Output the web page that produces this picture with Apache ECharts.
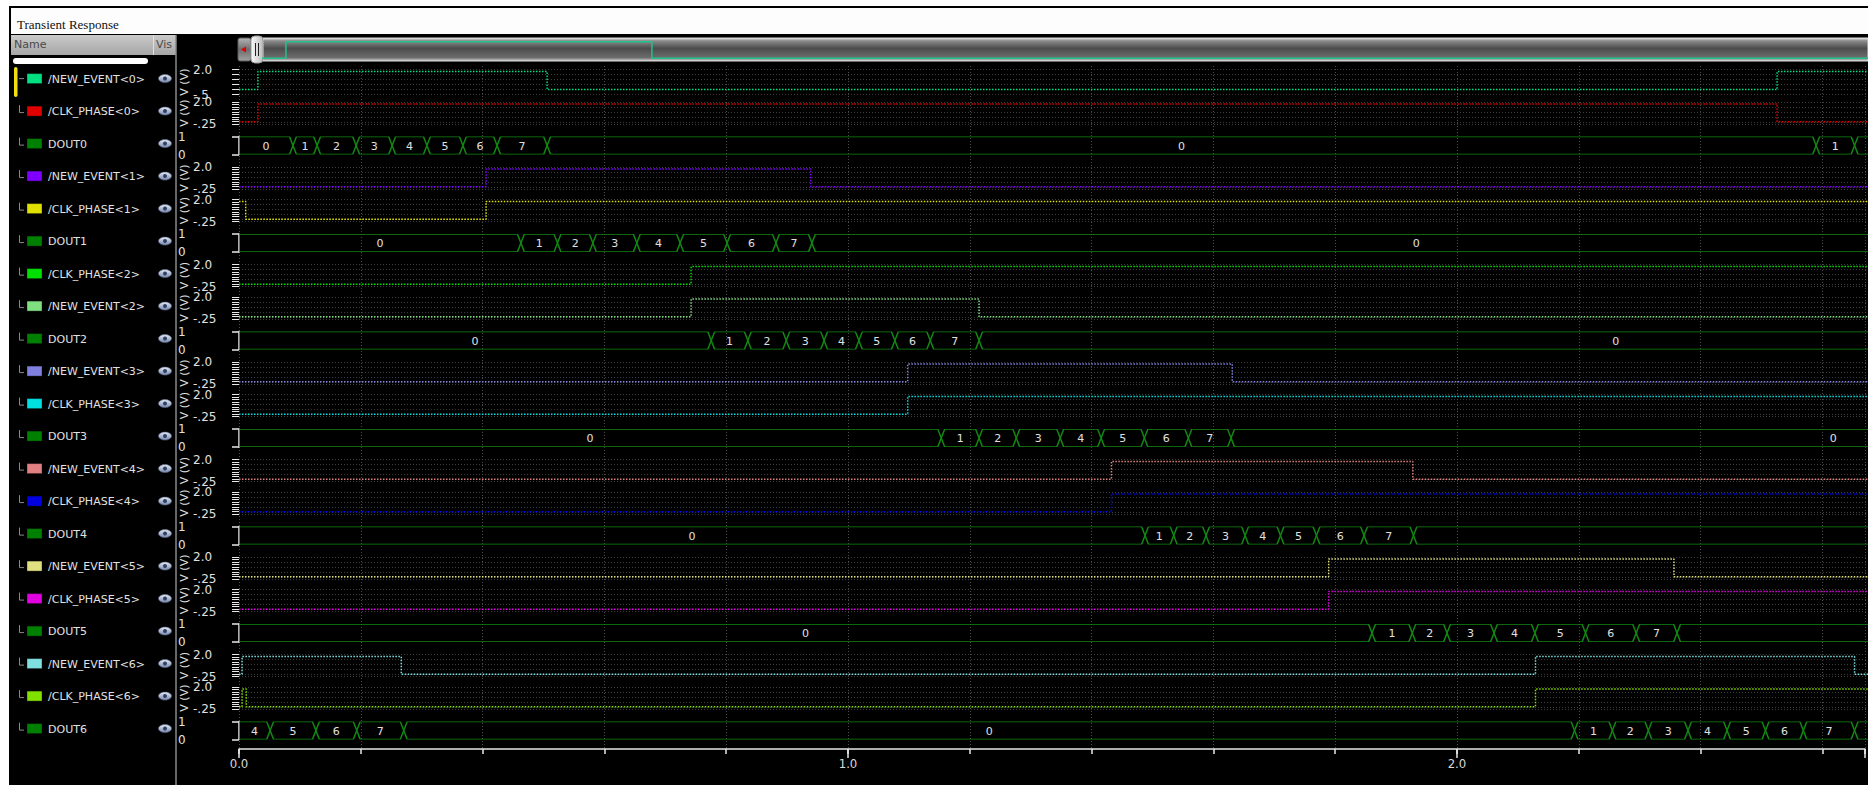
<!DOCTYPE html>
<html>
<head>
<meta charset="utf-8">
<script src="https://cdn.jsdelivr.net/npm/echarts@6/dist/echarts.min.js"></script>
<style>
  html, body { margin: 0; padding: 0; background: #fff; }
  #canvas { width: 1868px; height: 785px; }
</style>
</head>
<body>
<div id="canvas"></div>
<script>
// time axis
var TIME_LABELS = ['0.0', '1.0', '2.0'];
var XMAX = 2.67;

// analog signals: [time, volts]
var NEW_EVENT_0 = [[0, 0], [0.031, 1.8], [0.505, 0], [2.521, 1.8]];
var CLK_PHASE_0 = [[0, 0], [0.031, 1.8], [2.521, 0]];
var NEW_EVENT_1 = [[0, 0], [0.405, 1.8], [0.937, 0]];
var CLK_PHASE_1 = [[0, 1.8], [0.011, 0], [0.405, 1.8]];
var CLK_PHASE_2 = [[0, 0], [0.741, 1.8]];
var NEW_EVENT_2 = [[0, 0], [0.741, 1.8], [1.213, 0]];
var NEW_EVENT_3 = [[0, 0], [1.096, 1.8], [1.628, 0]];
var CLK_PHASE_3 = [[0, 0], [1.096, 1.8]];
var NEW_EVENT_4 = [[0, 0], [1.430, 1.8], [1.924, 0]];
var CLK_PHASE_4 = [[0, 0], [1.430, 1.8]];
var NEW_EVENT_5 = [[0, 0], [1.786, 1.8], [2.352, 0]];
var CLK_PHASE_5 = [[0, 0], [1.786, 1.8]];
var NEW_EVENT_6 = [[0, 0], [0.005, 1.8], [0.266, 0], [2.125, 1.8], [2.648, 0]];
var CLK_PHASE_6 = [[0, 0], [0.005, 1.8], [0.012, 0], [2.125, 1.8]];

// bus signals: [segment start, value], last entry = end of last segment
var DOUT0 = [[0, 0], [0.0885, 1], [0.128, 2], [0.192, 3], [0.251, 4], [0.308, 5], [0.367, 6], [0.423, 7], [0.505, 0], [2.585, 1], [2.648, 2], [2.71, null]];
var DOUT1 = [[0, 0], [0.462, 1], [0.522, 2], [0.580, 3], [0.652, 4], [0.723, 5], [0.800, 6], [0.880, 7], [0.939, 0], [2.92, null]];
var DOUT2 = [[0, 0], [0.774, 1], [0.834, 2], [0.897, 3], [0.959, 4], [1.016, 5], [1.075, 6], [1.133, 7], [1.213, 0], [3.30, null]];
var DOUT3 = [[0, 0], [1.151, 1], [1.213, 2], [1.274, 3], [1.346, 4], [1.413, 5], [1.484, 6], [1.556, 7], [1.626, 0], [3.60, null]];
var DOUT4 = [[0, 0], [1.485, 1], [1.532, 2], [1.585, 3], [1.649, 4], [1.707, 5], [1.766, 6], [1.844, 7], [1.925, 0], [3.98, null]];
var DOUT5 = [[0, 0], [1.857, 1], [1.923, 2], [1.980, 3], [2.057, 4], [2.124, 5], [2.207, 6], [2.290, 7], [2.357, 0], [4.3, null]];
var DOUT6 = [[0, 4], [0.051, 5], [0.126, 6], [0.193, 7], [0.270, 0], [2.189, 1], [2.251, 2], [2.310, 3], [2.375, 4], [2.439, 5], [2.502, 6], [2.564, 7], [2.648, 0], [4.7, null]];

var NAMES = ['/NEW_EVENT<0>', '/CLK_PHASE<0>', 'DOUT0', '/NEW_EVENT<1>', '/CLK_PHASE<1>', 'DOUT1',
  '/CLK_PHASE<2>', '/NEW_EVENT<2>', 'DOUT2', '/NEW_EVENT<3>', '/CLK_PHASE<3>', 'DOUT3',
  '/NEW_EVENT<4>', '/CLK_PHASE<4>', 'DOUT4', '/NEW_EVENT<5>', '/CLK_PHASE<5>', 'DOUT5',
  '/NEW_EVENT<6>', '/CLK_PHASE<6>', 'DOUT6'];
var WAVES = [NEW_EVENT_0, CLK_PHASE_0, DOUT0, NEW_EVENT_1, CLK_PHASE_1, DOUT1,
  CLK_PHASE_2, NEW_EVENT_2, DOUT2, NEW_EVENT_3, CLK_PHASE_3, DOUT3,
  NEW_EVENT_4, CLK_PHASE_4, DOUT4, NEW_EVENT_5, CLK_PHASE_5, DOUT5,
  NEW_EVENT_6, CLK_PHASE_6, DOUT6];
var COLORS = ['#00e080', '#e00000', '#008000', '#8000ff', '#e0e000', '#008000',
  '#00e000', '#80e080', '#008000', '#8080e0', '#00e0e0', '#008000',
  '#e08080', '#0000e0', '#008000', '#e0e080', '#e000e0', '#008000',
  '#80e0e0', '#80e000', '#008000'];
var ANALOG_TICKS = ['2.0', '-.25'];
var FIRST_TICKS = ['2.0', '-.5'];
var BUS_TICKS = ['0', '1'];

var FONT = "'DejaVu Sans', sans-serif";
var BUS_COLOR = '#118811';
var X0 = 239, ROW0 = 78.6, ROW_STEP = 32.5;

function renderBus(params, api) {
  var t0 = api.value(0), t1 = api.value(1), v = api.value(2);
  var a = api.coord([t0, 1]), b = api.coord([t1, 0]);
  var x0 = a[0], x1 = b[0], yt = a[1], yb = b[1], ym = (yt + yb) / 2;
  var d = Math.min(3.5, (x1 - x0) / 2);
  var pts = t0 <= 0
    ? [[x0, yt], [x1 - d, yt], [x1, ym], [x1 - d, yb], [x0, yb]]
    : [[x0, ym], [x0 + d, yt], [x1 - d, yt], [x1, ym], [x1 - d, yb], [x0 + d, yb]];
  var children = [
    { type: 'polygon', shape: { points: pts }, style: { fill: 'none', stroke: BUS_COLOR, lineWidth: 1.5 } }
  ];
  var cx = (x0 + x1) / 2;
  var right = params.coordSys.x + params.coordSys.width;
  if (cx < right - 6) {
    children.push({ type: 'text', style: { text: String(v), x: cx, y: ym + 0.5, align: 'center', verticalAlign: 'middle',
      fill: '#e0e0e0', fontSize: 11, fontFamily: FONT } });
  }
  return { type: 'group', children: children };
}

var grids = [], xAxes = [], yAxes = [], series = [];
var graphics = [
  // frame and title
  { type: 'rect', shape: { x: 0, y: 0, width: 1868, height: 6 }, style: { fill: '#fff' } },
  { type: 'rect', shape: { x: 0, y: 0, width: 9, height: 785 }, style: { fill: '#fff' } },
  { type: 'rect', shape: { x: 11, y: 8, width: 1857, height: 26 }, style: { fill: '#fdfdfd' } },
  { type: 'text', x: 17, y: 24, style: { text: 'Transient Response', fill: '#111', fontSize: 13,
    fontFamily: "'Liberation Serif', 'DejaVu Serif', serif", verticalAlign: 'middle' } },
  // name / vis header
  { type: 'rect', shape: { x: 11, y: 35, width: 165, height: 20 },
    style: { fill: { type: 'linear', x: 0, y: 0, x2: 0, y2: 1, colorStops: [{ offset: 0, color: '#cacaca' }, { offset: 1, color: '#a6a6a6' }] } } },
  { type: 'line', shape: { x1: 153.5, y1: 35, x2: 153.5, y2: 55 }, style: { stroke: '#e2e2e2', lineWidth: 1 } },
  { type: 'text', x: 14, y: 44, style: { text: 'Name', fill: '#4a4a4a', fontSize: 11, fontFamily: FONT, verticalAlign: 'middle' } },
  { type: 'text', x: 156, y: 44, style: { text: 'Vis', fill: '#4a4a4a', fontSize: 11, fontFamily: FONT, verticalAlign: 'middle' } },
  { type: 'rect', shape: { x: 13, y: 58, width: 135, height: 6, r: 3 }, style: { fill: '#fff' } },
  { type: 'line', shape: { x1: 176, y1: 35, x2: 176, y2: 785 }, style: { stroke: '#8a8a8a', lineWidth: 1.5 } },
  { type: 'rect', shape: { x: 14, y: 67, width: 3.5, height: 30, r: 2 }, style: { fill: '#f0e010' } },
  // scrollbar
  { type: 'rect', z: 1, shape: { x: 263, y: 38, width: 1605, height: 23 },
    style: { stroke: '#dcdcdc', lineWidth: 1, fill: { type: 'linear', x: 0, y: 0, x2: 0, y2: 1, colorStops: [
      { offset: 0, color: '#e6e6e6' }, { offset: 0.12, color: '#8c8c8c' }, { offset: 0.45, color: '#4c4c4c' },
      { offset: 0.85, color: '#6c6c6c' }, { offset: 1, color: '#cfcfcf' }] } } },
  { type: 'rect', z: 1, shape: { x: 238, y: 38, width: 13, height: 23, r: 2 },
    style: { stroke: '#5a5a5a', fill: { type: 'linear', x: 0, y: 0, x2: 0, y2: 1, colorStops: [
      { offset: 0, color: '#b4b4b4' }, { offset: 0.5, color: '#6e6e6e' }, { offset: 1, color: '#a0a0a0' }] } } },
  { type: 'polygon', z: 2, shape: { points: [[241, 49.5], [246, 46.5], [246, 52.5]] }, style: { fill: '#e00000' } },
  { type: 'rect', z: 1, shape: { x: 251, y: 36, width: 12, height: 27, r: 4 },
    style: { stroke: '#9a9a9a', fill: { type: 'linear', x: 0, y: 0, x2: 1, y2: 0, colorStops: [
      { offset: 0, color: '#fafafa' }, { offset: 1, color: '#bdbdbd' }] } } },
  { type: 'line', z: 2, shape: { x1: 255.5, y1: 43, x2: 255.5, y2: 56 }, style: { stroke: '#222', lineWidth: 1 } },
  { type: 'line', z: 2, shape: { x1: 258.5, y1: 43, x2: 258.5, y2: 56 }, style: { stroke: '#222', lineWidth: 1 } }
];

NAMES.forEach(function (name, i) {
  var c = ROW0 + ROW_STEP * i;
  var bus = name.indexOf('DOUT') === 0;
  var first = i === 0;
  var wave = WAVES[i];
  var top = bus ? c - 7 : c - 9;
  var height = bus ? 18 : (first ? 25 : 22);
  var gi = grids.length;
  grids.push({ left: X0, right: 0, top: top, height: height });
  xAxes.push({ gridIndex: gi, type: 'value', min: 0, max: XMAX, show: false });

  if (bus) {
    var yb = yAxes.length;
    yAxes.push({
      gridIndex: gi, type: 'value', min: 0, max: 1, interval: 1, offset: 8,
      axisLine: { show: true, lineStyle: { color: '#e8e8e8', width: 1.5 } },
      axisTick: { show: true, length: 7, lineStyle: { color: '#e8e8e8', width: 1.5 } },
      axisLabel: { show: true, align: 'left', margin: 53, color: '#e0e0e0', fontSize: 12, fontFamily: FONT,
        formatter: function (v) { return BUS_TICKS[v] || ''; } },
      splitLine: { show: false }
    });
    var segs = [];
    for (var k = 0; k < wave.length - 1; k++) segs.push([wave[k][0], wave[k + 1][0], wave[k][1]]);
    series.push({ type: 'custom', xAxisIndex: gi, yAxisIndex: yb, clip: true, silent: true,
      renderItem: renderBus, data: segs, z: 3 });
  } else {
    var lbl = first ? FIRST_TICKS : ANALOG_TICKS;
    var ymin = first ? -0.5 : -0.25;
    var ya = yAxes.length;
    yAxes.push({
      gridIndex: gi, type: 'value', min: ymin, max: 2, interval: first ? 0.5 : 0.25, offset: 8,
      name: 'V (V)', nameLocation: 'middle', nameRotate: 90, nameGap: 41, nameMoveOverlap: false,
      nameTextStyle: { color: '#e0e0e0', fontSize: 11, fontFamily: FONT },
      axisLine: { show: false },
      axisTick: { show: true, length: 7, lineStyle: { color: '#e8e8e8', width: 1 } },
      axisLabel: { show: true, showMinLabel: true, showMaxLabel: true, align: 'left', margin: 38,
        color: '#e0e0e0', fontSize: 12, fontFamily: FONT,
        formatter: function (v) {
          if (Math.abs(v - 2) < 1e-6) return lbl[0];
          if (Math.abs(v - ymin) < 1e-6) return lbl[1];
          return '';
        } },
      splitLine: { show: false }
    });
    yAxes.push({
      gridIndex: gi, type: 'value', min: 0, max: height, interval: 5, inverse: true, position: 'right',
      axisLine: { show: false }, axisTick: { show: false }, axisLabel: { show: false },
      splitLine: { show: true, lineStyle: { color: '#3c3c3c', type: [1, 2], width: 1 } }
    });
    var last = wave[wave.length - 1][1];
    series.push({ type: 'line', xAxisIndex: gi, yAxisIndex: ya, step: 'end', symbol: 'none', silent: true, z: 3,
      data: wave.concat([[XMAX, last]]),
      lineStyle: { color: COLORS[i], width: 1.5, type: [1.5, 1.5] } });
  }

  // name column
  if (first) {
    graphics.push({ type: 'line', shape: { x1: 19, y1: c, x2: 24, y2: c }, style: { stroke: '#8a8a8a', lineWidth: 1 } });
  } else {
    graphics.push({ type: 'polyline', shape: { points: [[19.5, c - 6], [19.5, c + 1.5], [24, c + 1.5]] },
      style: { stroke: '#8a8a8a', lineWidth: 1, fill: 'none' } });
  }
  graphics.push({ type: 'rect', shape: { x: 27, y: c - 5, width: 15, height: 10 },
    style: { fill: COLORS[i], stroke: 'rgba(0,0,0,0.35)', lineWidth: 1 } });
  graphics.push({ type: 'text', x: 48, y: c + 0.5,
    style: { text: name, fill: '#e2e2e2', fontSize: 11, fontFamily: FONT, verticalAlign: 'middle' } });
  graphics.push({ type: 'ellipse', shape: { cx: 165, cy: c, rx: 6.5, ry: 4 },
    style: { stroke: '#56627e', lineWidth: 0.6, fill: { type: 'linear', x: 0, y: 0, x2: 0, y2: 1, colorStops: [
      { offset: 0, color: '#e6ecf8' }, { offset: 1, color: '#7486ae' }] } } });
  graphics.push({ type: 'circle', shape: { cx: 165, cy: c, r: 2 }, style: { fill: '#33415f' } });
});

// main time axis with grid lines
var mg = grids.length;
grids.push({ left: X0, right: 0, top: 66, bottom: 36 });
xAxes.push({
  gridIndex: mg, type: 'value', min: 0, max: XMAX, interval: 0.2, position: 'bottom',
  axisLine: { show: true, lineStyle: { color: '#e8e8e8', width: 1.5 } },
  axisTick: { show: true, length: 5, lineStyle: { color: '#e8e8e8', width: 1.5 } },
  axisLabel: { show: false },
  splitLine: { show: true, lineStyle: { color: '#4c4c4c', type: [1, 2], width: 1 } }
});
xAxes.push({
  gridIndex: mg, type: 'value', min: 0, max: XMAX, interval: 1, position: 'bottom',
  axisLine: { show: false },
  axisTick: { show: true, length: 9, lineStyle: { color: '#e8e8e8', width: 1.5 } },
  axisLabel: { show: true, margin: 8, color: '#d8d8d8', fontSize: 13,
    fontFamily: "'Liberation Sans Narrow', 'DejaVu Sans Condensed', sans-serif",
    formatter: function (v) { return TIME_LABELS[v] || ''; } },
  splitLine: { show: false }
});
yAxes.push({ gridIndex: mg, type: 'value', min: 0, max: 1, show: false });

// overview trace inside the scrollbar
var og = grids.length;
grids.push({ left: 262, right: 0, top: 41.7, height: 16.6 });
xAxes.push({ gridIndex: og, type: 'value', min: 0, max: 2.08, show: false });
var oy = yAxes.length;
yAxes.push({ gridIndex: og, type: 'value', min: 0, max: 1.8, show: false });
series.push({ type: 'line', xAxisIndex: xAxes.length - 1, yAxisIndex: oy, step: 'end', symbol: 'none', silent: true, z: 5,
  data: NEW_EVENT_0.concat([[2.08, NEW_EVENT_0[NEW_EVENT_0.length - 1][1]]]),
  lineStyle: { color: '#1fc48a', width: 1.5 } });

var myChart = echarts.init(document.getElementById('canvas'), null, { renderer: 'svg' });
var option = {
  backgroundColor: '#000',
  animation: false,
  grid: grids,
  xAxis: xAxes,
  yAxis: yAxes,
  series: series,
  graphic: { elements: graphics }
};
myChart.setOption(option);
</script>
</body>
</html>
